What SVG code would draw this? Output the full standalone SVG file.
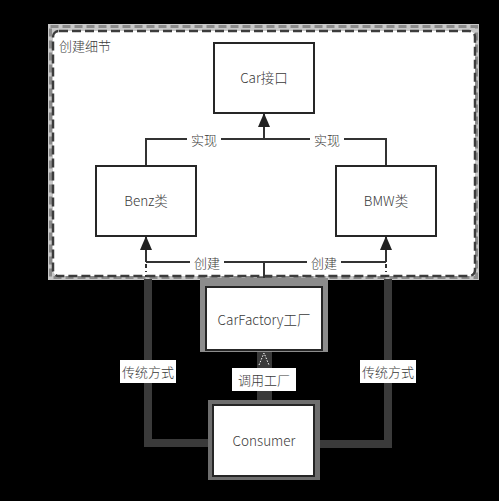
<svg xmlns="http://www.w3.org/2000/svg" width="499" height="501" viewBox="0 0 499 501">
<defs>
<style>
.box{fill:#fff;stroke:#262626;stroke-width:2}
.t{font-family:"Noto Sans CJK SC","Noto Sans",sans-serif;font-size:13.5px;font-weight:300;fill:#3a3a3a;text-anchor:middle}
.lt{font-family:"Noto Sans CJK SC","Noto Sans",sans-serif;font-size:13px;font-weight:300;fill:#3a3a3a;text-anchor:middle}
.ln{fill:none;stroke:#333;stroke-width:2}
.band{fill:none;stroke:#3a3a3a;stroke-width:8}
</style>
<marker id="arr" viewBox="0 0 14 12" refX="13" refY="6" markerWidth="14" markerHeight="12" markerUnits="userSpaceOnUse" orient="auto">
<path d="M14 6 L0 0 L0 12 Z" fill="#222"/>
</marker>
</defs>
<rect x="0" y="0" width="499" height="501" fill="#000"/>
<g id="container">
<rect x="48" y="24" width="431" height="256" fill="#c8c8c8"/>
<rect x="50.5" y="26.5" width="426" height="251" fill="none" stroke="#8a8a8a" stroke-width="3" stroke-dasharray="8 4"/>
<rect x="53" y="31" width="422" height="245" rx="6" fill="#fff" stroke="#3c3c3c" stroke-width="2.5" stroke-dasharray="9 4"/>
<text x="59" y="51" class="lt" style="text-anchor:start">创建细节</text>
</g>
<g id="connectors">
<path class="band" d="M148 279 V443 H208"/>
<path class="band" d="M388 279 V444 H320"/>
<rect x="257" y="277" width="15" height="10" fill="#555"/>
<rect x="257" y="352" width="15" height="48" fill="#3a3a3a"/>
<path d="M259 365 L264 353 L269 365" fill="none" stroke="#fff" stroke-width="1" stroke-dasharray="1.5 1.5"/>
<path class="ln" d="M146 166 V139 H386 V166"/>
<path class="ln" d="M264 139 V114" marker-end="url(#arr)"/>
<path class="ln" d="M264 287 V262"/>
<path class="ln" d="M146 262 H386"/>
<path class="ln" d="M146 262 V237" marker-end="url(#arr)"/>
<path class="ln" d="M386 262 V237" marker-end="url(#arr)"/>
<path class="ln" d="M146 264 V277" stroke-dasharray="4 3 1 3"/>
<path class="ln" d="M386 264 V277" stroke-dasharray="4 3 1 3"/>
<rect x="187" y="132" width="34" height="15" fill="#fff"/>
<text x="204" y="145" class="lt">实现</text>
<rect x="310" y="132" width="34" height="15" fill="#fff"/>
<text x="327" y="145" class="lt">实现</text>
<rect x="190" y="255" width="34" height="15" fill="#fff"/>
<text x="207" y="268" class="lt">创建</text>
<rect x="307" y="255" width="34" height="15" fill="#fff"/>
<text x="324" y="268" class="lt">创建</text>
<rect x="120" y="360" width="56" height="23" fill="#fff"/>
<text x="148" y="377" class="lt">传统方式</text>
<rect x="360" y="360" width="56" height="23" fill="#fff"/>
<text x="388" y="377" class="lt">传统方式</text>
<rect x="232" y="368" width="64" height="23" fill="#fff"/>
<text x="264" y="385" class="lt">调用工厂</text>
</g>
<g id="car">
<rect class="box" x="214" y="43" width="100" height="70"/>
<text x="264" y="83" class="t">Car接口</text>
</g>
<g id="benz">
<rect class="box" x="96" y="166" width="100" height="70"/>
<text x="146" y="206" class="t">Benz类</text>
</g>
<g id="bmw">
<rect class="box" x="336" y="166" width="100" height="70"/>
<text x="386" y="206" class="t">BMW类</text>
</g>
<g id="factory">
<rect x="200" y="278" width="128" height="74" fill="#8c8c8c"/>
<rect class="box" x="206" y="287" width="116" height="63"/>
<text x="264" y="325" class="t">CarFactory工厂</text>
</g>
<g id="consumer">
<rect x="208" y="400" width="112" height="80" fill="#6e6e6e"/>
<rect class="box" x="213" y="405" width="101" height="71"/>
<text x="264" y="446" class="t">Consumer</text>
</g>
</svg>
